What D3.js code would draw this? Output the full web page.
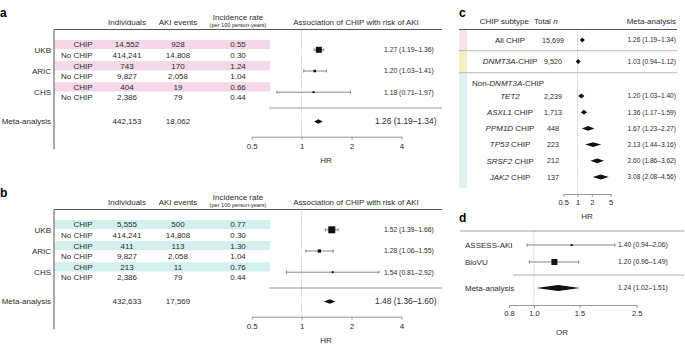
<!DOCTYPE html>
<html>
<head>
<meta charset="utf-8">
<script src="https://cdn.jsdelivr.net/npm/d3@7"></script>
<style>
  body { margin: 0; background: #fff; }
  svg { font-family: "Liberation Sans", Arial, sans-serif; }
</style>
</head>
<body>
<div id="chart"></div>
<script>
// ---- data ----
const cohorts = ["UKB", "ARIC", "CHS"];
const groups = ["CHIP", "No CHIP"];

// panel a (all CHIP)
const aIndividuals = [14552, 414241, 743, 9827, 404, 2386];
const aEvents = [928, 14808, 170, 2058, 19, 79];
const aIncidence = [0.55, 0.30, 1.24, 1.04, 0.66, 0.44];
const aHR = [1.27, 1.20, 1.18];
const aLower = [1.19, 1.03, 0.71];
const aUpper = [1.36, 1.41, 1.97];
const aMetaCounts = [442153, 18062];
const aMetaHR = [1.26, 1.19, 1.34];

// panel b (large CHIP)
const bIndividuals = [5555, 414241, 411, 9827, 213, 2386];
const bEvents = [500, 14808, 113, 2058, 11, 79];
const bIncidence = [0.77, 0.30, 1.30, 1.04, 0.76, 0.44];
const bHR = [1.52, 1.28, 1.54];
const bLower = [1.39, 1.06, 0.81];
const bUpper = [1.66, 1.55, 2.92];
const bMetaCounts = [432633, 17569];
const bMetaHR = [1.48, 1.36, 1.60];

const hrTicks = [0.5, 1, 2, 4];

// panel c (subtypes)
const cGene = ["", "DNMT3A", "TET2", "ASXL1", "PPM1D", "TP53", "SRSF2", "JAK2"];
const cSuffix = ["All CHIP", "-CHIP", "", " CHIP", " CHIP", " CHIP", " CHIP", " CHIP"];
const cTotal = [15699, 9520, 2239, 1713, 448, 223, 212, 137];
const cHR = [1.26, 1.03, 1.20, 1.36, 1.67, 2.13, 2.60, 3.08];
const cLower = [1.19, 0.94, 1.03, 1.17, 1.23, 1.44, 1.86, 2.08];
const cUpper = [1.34, 1.12, 1.40, 1.59, 2.27, 3.16, 3.62, 4.56];
const cTicks = [0.5, 1, 2, 5];

// panel d (AKI cohorts, OR)
const dStudies = ["ASSESS-AKI", "BioVU"];
const dOR = [1.40, 1.20];
const dLower = [0.94, 0.96];
const dUpper = [2.06, 1.49];
const dMetaOR = [1.24, 1.02, 1.51];
const dTicks = [0.8, 1.0, 1.5, 2.5];

// ---- helpers ----
const fmtN = d3.format(",");
const fmt2 = d3.format(".2f");
const ci = (e, l, u) => `${fmt2(e)} (${fmt2(l)}–${fmt2(u)})`;
const TXT = "#2b2b2b";

const svg = d3.select("#chart").append("svg")
  .attr("width", 685).attr("height", 346);

function diamond(g, x, e, l, u, y, h, minW) {
  let x0 = x(l), x1 = x(u), xc = x(e);
  if (x1 - x0 < minW) { x0 = xc - minW / 2; x1 = xc + minW / 2; }
  g.append("path")
    .attr("d", `M${x0},${y}L${xc},${y - h}L${x1},${y}L${xc},${y + h}Z`)
    .attr("fill", "#111");
}

function whisker(g, x, e, l, u, y, size) {
  g.append("line").attr("x1", x(l)).attr("x2", x(u)).attr("y1", y).attr("y2", y)
    .attr("stroke", "#555").attr("stroke-width", 0.7);
  [l, u].forEach(v => g.append("line").attr("x1", x(v)).attr("x2", x(v))
    .attr("y1", y - 1.5).attr("y2", y + 1.5).attr("stroke", "#555").attr("stroke-width", 0.7));
  g.append("rect").attr("x", x(e) - size / 2).attr("y", y - size / 2)
    .attr("width", size).attr("height", size).attr("fill", "#111");
}

function styleAxis(ax) {
  ax.select(".domain").attr("stroke", "#999");
  ax.selectAll(".tick line").attr("stroke", "#999");
  ax.selectAll(".tick text").attr("fill", TXT).attr("font-size", 8);
}

// ---- panels a and b ----
function cohortPanel(top, letter, band, ind, ev, inc, hr, lo, hi, metaCounts, metaHR, maxSq) {
  const g = svg.append("g").attr("transform", `translate(0,${top})`);
  const rowY = d3.scaleLinear().domain([0, 1]).range([44.5, 55.1]);
  const x = d3.scaleLog().base(2).domain([0.5, 4]).range([251.7, 401.5]);

  g.append("text").attr("x", 0).attr("y", 12.5).attr("dy", "0.35em")
    .attr("font-weight", "bold").attr("font-size", 12).text(letter);

  // header
  const hdr = [["Individuals", 127, 22], ["AKI events", 178, 22], ["Incidence rate", 238, 17],
               ["Association of CHIP with risk of AKI", 356, 22]];
  hdr.forEach(h => g.append("text").attr("x", h[1]).attr("y", h[2]).attr("dy", "0.35em")
    .attr("text-anchor", "middle").attr("font-size", 8).attr("fill", TXT).text(h[0]));
  g.append("text").attr("x", 238).attr("y", 24.8).attr("dy", "0.35em")
    .attr("text-anchor", "middle").attr("font-size", 5.6).attr("fill", TXT).text("(per 100 person-years)");

  // bands behind CHIP rows
  cohorts.forEach((c, i) => {
    g.append("rect").attr("x", 54.5).attr("width", 215.5)
      .attr("y", rowY(2 * i) - 4.6).attr("height", 9.2).attr("fill", band);
  });

  g.append("line").attr("x1", 54).attr("x2", 442).attr("y1", 29.5).attr("y2", 29.5)
    .attr("stroke", "#555").attr("stroke-width", 1);
  g.append("line").attr("x1", 54).attr("x2", 54).attr("y1", 29.5).attr("y2", 149.5)
    .attr("stroke", "#555").attr("stroke-width", 1);
  g.append("line").attr("x1", 269).attr("x2", 442).attr("y1", 108).attr("y2", 108)
    .attr("stroke", "#999").attr("stroke-width", 1);

  // dotted HR = 1
  g.append("line").attr("x1", x(1)).attr("x2", x(1)).attr("y1", 29.5).attr("y2", 136.7)
    .attr("stroke", "#888").attr("stroke-width", 0.6).attr("stroke-dasharray", "1,1.2");

  // rows
  ind.forEach((v, k) => {
    const y = rowY(k);
    g.append("text").attr("x", 92.5).attr("y", y).attr("dy", "0.35em").attr("text-anchor", "end")
      .attr("font-size", 8).attr("fill", TXT).text(groups[k % 2]);
    g.append("text").attr("x", 127).attr("y", y).attr("dy", "0.35em").attr("text-anchor", "middle")
      .attr("font-size", 8).attr("fill", TXT).text(fmtN(v));
    g.append("text").attr("x", 178).attr("y", y).attr("dy", "0.35em").attr("text-anchor", "middle")
      .attr("font-size", 8).attr("fill", TXT).text(fmtN(ev[k]));
    g.append("text").attr("x", 238).attr("y", y).attr("dy", "0.35em").attr("text-anchor", "middle")
      .attr("font-size", 8).attr("fill", TXT).text(fmt2(inc[k]));
  });

  // study estimates, square size from inverse standard error
  const se = hr.map((d, i) => (Math.log(hi[i]) - Math.log(lo[i])) / 3.92);
  const minSe = d3.min(se);
  cohorts.forEach((c, i) => {
    const y = (rowY(2 * i) + rowY(2 * i + 1)) / 2;
    g.append("text").attr("x", 51).attr("y", y).attr("dy", "0.35em").attr("text-anchor", "end")
      .attr("font-size", 8).attr("fill", TXT).text(c);
    whisker(g, x, hr[i], lo[i], hi[i], y, Math.max(2, maxSq * minSe / se[i]));
    g.append("text").attr("x", 384).attr("y", y).attr("dy", "0.35em")
      .attr("font-size", 6.8).attr("fill", TXT).text(ci(hr[i], lo[i], hi[i]));
  });

  // meta-analysis
  const my = 121.5;
  g.append("text").attr("x", 51).attr("y", my).attr("dy", "0.35em").attr("text-anchor", "end")
    .attr("font-size", 8).attr("fill", TXT).text("Meta-analysis");
  g.append("text").attr("x", 127).attr("y", my).attr("dy", "0.35em").attr("text-anchor", "middle")
    .attr("font-size", 8).attr("fill", TXT).text(fmtN(metaCounts[0]));
  g.append("text").attr("x", 178).attr("y", my).attr("dy", "0.35em").attr("text-anchor", "middle")
    .attr("font-size", 8).attr("fill", TXT).text(fmtN(metaCounts[1]));
  diamond(g, x, metaHR[0], metaHR[1], metaHR[2], my, 2.3, 6);
  g.append("text").attr("x", 375).attr("y", my).attr("dy", "0.35em")
    .attr("font-size", 8.4).attr("fill", TXT).text(ci(metaHR[0], metaHR[1], metaHR[2]));

  // axis
  const ax = g.append("g").attr("transform", "translate(0,136.7)")
    .call(d3.axisBottom(x).tickValues(hrTicks).tickFormat(d => d).tickSize(3).tickSizeOuter(0).tickPadding(4));
  styleAxis(ax);
  g.append("text").attr("x", 326).attr("y", 160).attr("dy", "0.35em").attr("text-anchor", "middle")
    .attr("font-size", 8).attr("fill", TXT).text("HR");
}

cohortPanel(0, "a", "#f4d7e9", aIndividuals, aEvents, aIncidence, aHR, aLower, aUpper, aMetaCounts, aMetaHR, 6);
cohortPanel(180, "b", "#d3f0f0", bIndividuals, bEvents, bIncidence, bHR, bLower, bUpper, bMetaCounts, bMetaHR, 7);

// ---- panel c ----
{
  const g = svg.append("g");
  const x = d3.scaleLog().base(2).domain([0.5, 5]).range([563.3, 610.7]);
  const subY = d3.scaleLinear().domain([2, 7]).range([96, 177]);
  const rowY = i => i === 0 ? 40 : i === 1 ? 61.5 : subY(i);

  g.append("text").attr("x", 459).attr("y", 13).attr("dy", "0.35em")
    .attr("font-weight", "bold").attr("font-size", 12).text("c");

  g.append("text").attr("x", 529).attr("y", 21).attr("dy", "0.35em").attr("text-anchor", "end")
    .attr("font-size", 8).attr("fill", TXT).text("CHIP subtype");
  const tn = g.append("text").attr("x", 534).attr("y", 21).attr("dy", "0.35em")
    .attr("font-size", 8).attr("fill", TXT);
  tn.append("tspan").text("Total ");
  tn.append("tspan").attr("font-style", "italic").text("n");
  g.append("text").attr("x", 676).attr("y", 21).attr("dy", "0.35em").attr("text-anchor", "end")
    .attr("font-size", 8).attr("fill", TXT).text("Meta-analysis");

  // colour strips
  g.append("rect").attr("x", 459).attr("y", 29.5).attr("width", 8).attr("height", 21.2).attr("fill", "#f9e1ee");
  g.append("rect").attr("x", 459).attr("y", 50.7).attr("width", 8).attr("height", 22).attr("fill", "#f6efc3");
  g.append("rect").attr("x", 459).attr("y", 72.7).attr("width", 8).attr("height", 115.3).attr("fill", "#dcf3f2");

  g.append("line").attr("x1", 459).attr("x2", 677).attr("y1", 29.5).attr("y2", 29.5)
    .attr("stroke", "#555").attr("stroke-width", 1);
  [50.7, 72.7].forEach(y => g.append("line").attr("x1", 459).attr("x2", 677).attr("y1", y).attr("y2", y)
    .attr("stroke", "#aaa").attr("stroke-width", 0.8));

  g.append("line").attr("x1", x(1)).attr("x2", x(1)).attr("y1", 29.5).attr("y2", 194)
    .attr("stroke", "#888").attr("stroke-width", 0.6).attr("stroke-dasharray", "1,1.2");

  const nd = g.append("text").attr("x", 472).attr("y", 83.5).attr("dy", "0.35em")
    .attr("font-size", 8).attr("fill", TXT);
  nd.append("tspan").text("Non-");
  nd.append("tspan").attr("font-style", "italic").text("DNMT3A");
  nd.append("tspan").text("-CHIP");

  cGene.forEach((gene, i) => {
    const y = rowY(i);
    const t = g.append("text").attr("x", 510).attr("y", y).attr("dy", "0.35em").attr("text-anchor", "middle")
      .attr("font-size", 8).attr("fill", TXT);
    if (gene) t.append("tspan").attr("font-style", "italic").text(gene);
    if (cSuffix[i]) t.append("tspan").text(cSuffix[i]);
    g.append("text").attr("x", 553).attr("y", y).attr("dy", "0.35em").attr("text-anchor", "middle")
      .attr("font-size", 7.2).attr("fill", TXT).text(fmtN(cTotal[i]));
    diamond(g, x, cHR[i], cLower[i], cUpper[i], y, 2.4, 5);
    g.append("text").attr("x", 676).attr("y", y).attr("dy", "0.35em").attr("text-anchor", "end")
      .attr("font-size", 6.6).attr("fill", TXT).text(ci(cHR[i], cLower[i], cUpper[i]));
  });

  const ax = g.append("g").attr("transform", "translate(0,194)")
    .call(d3.axisBottom(x).tickValues(cTicks).tickFormat(d => d).tickSize(3).tickSizeOuter(0).tickPadding(3));
  styleAxis(ax);
  ax.selectAll(".tick text").attr("font-size", 7.5);
  g.append("text").attr("x", 587).attr("y", 216).attr("dy", "0.35em").attr("text-anchor", "middle")
    .attr("font-size", 8).attr("fill", TXT).text("HR");
}

// ---- panel d ----
{
  const g = svg.append("g");
  const x = d3.scaleLog().domain([0.8, 2.5]).range([509, 636.6]);
  const rowY = d3.scaleLinear().domain([0, 1]).range([245, 262]);

  g.append("text").attr("x", 459).attr("y", 218).attr("dy", "0.35em")
    .attr("font-weight", "bold").attr("font-size", 12).text("d");

  g.append("line").attr("x1", 460).attr("x2", 684).attr("y1", 231).attr("y2", 231)
    .attr("stroke", "#888").attr("stroke-width", 0.8);
  g.append("line").attr("x1", 513).attr("x2", 684).attr("y1", 275).attr("y2", 275)
    .attr("stroke", "#999").attr("stroke-width", 0.8);
  g.append("line").attr("x1", x(1)).attr("x2", x(1)).attr("y1", 231).attr("y2", 305)
    .attr("stroke", "#888").attr("stroke-width", 0.6).attr("stroke-dasharray", "1,1.2");

  const se = dOR.map((d, i) => (Math.log(dUpper[i]) - Math.log(dLower[i])) / 3.92);
  const minSe = d3.min(se);
  dStudies.forEach((s, i) => {
    const y = rowY(i);
    g.append("text").attr("x", 465).attr("y", y).attr("dy", "0.35em")
      .attr("font-size", 8).attr("fill", TXT).text(s);
    const r = minSe / se[i];
    whisker(g, x, dOR[i], dLower[i], dUpper[i], y, Math.max(2, 6 * r * r));
    g.append("text").attr("x", 618).attr("y", y).attr("dy", "0.35em")
      .attr("font-size", 6.8).attr("fill", TXT).text(ci(dOR[i], dLower[i], dUpper[i]));
  });

  g.append("text").attr("x", 465).attr("y", 288).attr("dy", "0.35em")
    .attr("font-size", 8).attr("fill", TXT).text("Meta-analysis");
  diamond(g, x, dMetaOR[0], dMetaOR[1], dMetaOR[2], 288, 3, 6);
  g.append("text").attr("x", 618).attr("y", 288).attr("dy", "0.35em")
    .attr("font-size", 6.8).attr("fill", TXT).text(ci(dMetaOR[0], dMetaOR[1], dMetaOR[2]));

  const ax = g.append("g").attr("transform", "translate(0,305)")
    .call(d3.axisBottom(x).tickValues(dTicks).tickFormat(d3.format(".1f")).tickSize(3).tickSizeOuter(0).tickPadding(3));
  styleAxis(ax);
  ax.selectAll(".tick text").attr("font-size", 7.5);
  g.append("text").attr("x", 562).attr("y", 332).attr("dy", "0.35em").attr("text-anchor", "middle")
    .attr("font-size", 8).attr("fill", TXT).text("OR");
}
</script>
</body>
</html>
